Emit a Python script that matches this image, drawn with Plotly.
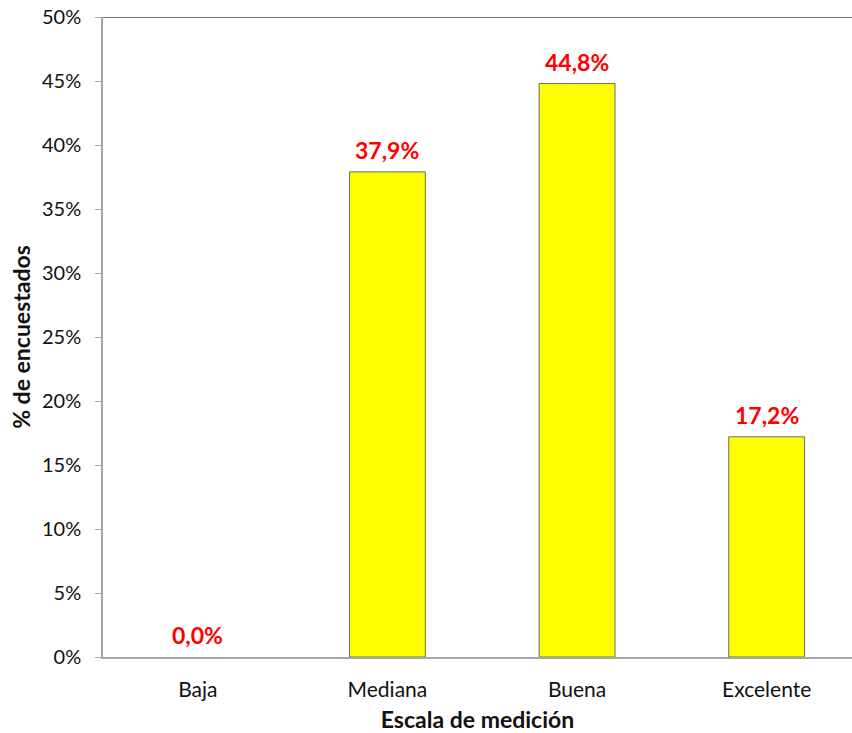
import plotly.graph_objects as go

categories = ["Baja", "Mediana", "Buena", "Excelente"]
values = [0.0, 37.9, 44.8, 17.2]
y_ticks = [0, 5, 10, 15, 20, 25, 30, 35, 40, 45, 50]

labels = [f"{v:.1f}%".replace(".", ",") for v in values]
FONT = "Lato, Noto Sans, sans-serif"

fig = go.Figure()
fig.add_trace(go.Bar(
    x=list(range(len(categories))), y=values,
    width=0.4,
    marker=dict(color="#FFFF00",
                line=dict(color="#6b6b6b", width=[0 if v == 0 else 1 for v in values])),
    hoverinfo="skip",
))
for i, (v, t) in enumerate(zip(values, labels)):
    fig.add_annotation(x=i, y=v, text=f"<b>{t}</b>", showarrow=False,
                       yanchor="bottom", yshift=6,
                       font=dict(family=FONT, size=23, color="#FF0000"))

fig.add_shape(type="line", xref="paper", yref="y", x0=0, x1=1, y0=50, y1=50,
              line=dict(color="#404040", width=1.5))

fig.update_layout(
    width=852, height=733,
    margin=dict(l=103, r=0, t=17, b=76),
    paper_bgcolor="white", plot_bgcolor="white",
    showlegend=False,
    font=dict(family=FONT, size=20, color="#111111"),
    xaxis=dict(
        range=[-0.5, 3.45], tickmode="array",
        tickvals=list(range(len(categories))), ticktext=categories,
        showline=True, linecolor="#a6a6a6", linewidth=1.5,
        ticks="", showgrid=False, zeroline=False,
        tickfont=dict(size=21), ticklabelstandoff=13,
        title=dict(text="<b>Escala de medición</b>", font=dict(size=23), standoff=12),
    ),
    yaxis=dict(
        range=[0, 50], tickmode="array", tickvals=y_ticks,
        ticktext=[f"{t}%" for t in y_ticks],
        showline=True, linecolor="#a6a6a6", linewidth=1.5,
        ticks="outside", ticklen=6, tickcolor="#a6a6a6",
        showgrid=False, zeroline=False,
        tickfont=dict(size=20), ticklabelstandoff=10,
        title=dict(text="<b>% de encuestados</b>", font=dict(size=23), standoff=5),
    ),
)

fig.write_html("out.html")
